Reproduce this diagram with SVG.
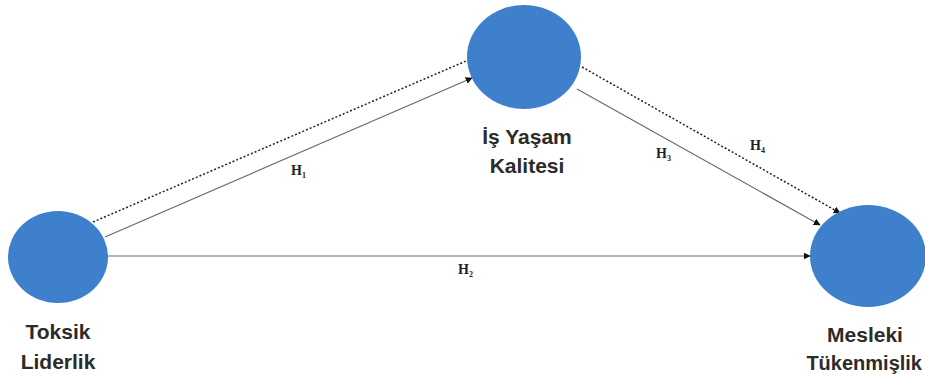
<svg xmlns="http://www.w3.org/2000/svg" width="925" height="379" viewBox="0 0 925 379">
<style>
.node{fill:#3F80CC;}
.lbl{font-family:"Liberation Sans",Arial,sans-serif;font-weight:bold;font-size:21px;fill:#2b2b2b;text-anchor:middle;}
.h{font-family:"Liberation Serif","Times New Roman",serif;font-weight:bold;font-size:14px;fill:#222;}
.sub{font-size:8px;}
.solid{stroke:#6a6a6a;stroke-width:1.2;fill:none;}
.dot{stroke:#222;stroke-width:1.5;stroke-dasharray:2 2;fill:none;}
</style>
<defs>
<marker id="arr" viewBox="0 0 10 10" refX="9" refY="5" markerWidth="7" markerHeight="7" orient="auto" markerUnits="userSpaceOnUse">
<path d="M0,0 L10,5 L0,10 z" fill="#111"/>
</marker>
</defs>
<rect width="925" height="379" fill="#fff"/>
<g id="connectors">
<line class="dot" x1="93" y1="222" x2="466" y2="61"/>
<line class="solid" x1="105" y1="237" x2="472" y2="78" marker-end="url(#arr)"/>
<line class="solid" x1="108" y1="256" x2="810" y2="256" marker-end="url(#arr)"/>
<line class="dot" x1="582" y1="67" x2="840" y2="213" marker-end="url(#arr)"/>
<line class="solid" x1="577" y1="89" x2="820" y2="225" marker-end="url(#arr)"/>
<text class="h" x="291" y="175">H<tspan class="sub" dy="3">1</tspan></text>
<text class="h" x="458" y="274">H<tspan class="sub" dy="3">2</tspan></text>
<text class="h" x="656" y="158">H<tspan class="sub" dy="3">3</tspan></text>
<text class="h" x="750" y="150">H<tspan class="sub" dy="3">4</tspan></text>
</g>
<g id="toksik">
<ellipse class="node" cx="58" cy="257" rx="50" ry="46"/>
<text class="lbl" x="58" y="339">Toksik</text>
<text class="lbl" x="58" y="369">Liderlik</text>
</g>
<g id="isyasam">
<ellipse class="node" cx="524" cy="57" rx="57" ry="52"/>
<text class="lbl" x="527" y="144">İş Yaşam</text>
<text class="lbl" x="527" y="173">Kalitesi</text>
</g>
<g id="mesleki">
<ellipse class="node" cx="868" cy="256" rx="58" ry="51"/>
<text class="lbl" x="865" y="342">Mesleki</text>
<text class="lbl" x="922" y="370" style="text-anchor:end;font-size:20px">Tükenmişlik</text>
</g>
</svg>
